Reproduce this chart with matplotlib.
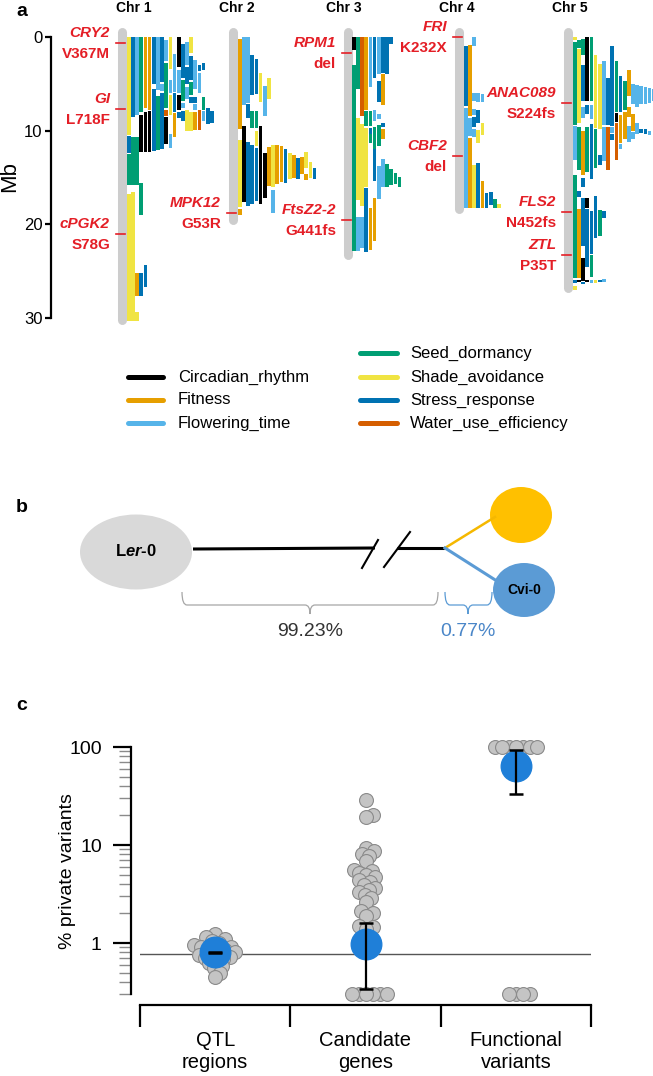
import numpy as np
import matplotlib
matplotlib.use('Agg')
import matplotlib.pyplot as plt
from matplotlib.patches import Ellipse, PathPatch
from matplotlib.path import Path

plt.rcParams['font.family'] = ['Liberation Sans', 'DejaVu Sans']
plt.rcParams['mathtext.fontset'] = 'custom'
plt.rcParams['mathtext.it'] = 'Liberation Sans:italic:bold'

# ---- panel a: QTL segments (Mb), one string per stacked column
trait_names = ['Circadian_rhythm', 'Fitness', 'Flowering_time', 'Seed_dormancy',
               'Shade_avoidance', 'Stress_response', 'Water_use_efficiency']
trait_codes = ['K', 'F', 'L', 'S', 'Y', 'B', 'W']
trait_colors = ['#000000', '#E69F00', '#56B4E9', '#009E73', '#F0E442', '#0072B2', '#D55E00']

chrom_names = ['Chr 1', 'Chr 2', 'Chr 3', 'Chr 4', 'Chr 5']
chrom_len = [30.4, 19.7, 23.5, 18.6, 27.0]

chr1_cols = [
    "Y 0 10.5; B 10.6 12.4; S 12.5 15.8; Y 16.8 30.3",
    "B 0 8.5; S 10.7 15.8; Y 16.5 30.3",
    "L 0 8.3; S 10.7 15.8; F 25.2 27.6; Y 29.3 30.3",
    "S 0 8.0; K 8.3 12.3; S 15.6 19.0; B 25.2 27.6",
    "F 0 7.6; K 8.0 12.3; B 24.3 26.7",
    "F 0 7.8; K 7.9 12.3",
    "B 0 5.0; B 5.6 12.2",
    "L 0 5.7; S 6.3 12.1",
    "B 0 4.8; L 5.0 5.8; B 6.0 12.0",
    "L 0.3 2.6; S 2.8 7.6; W 7.8 8.4; K 8.5 11.4",
    "Y 0 3.4; L 4.6 6.0; Y 6.2 8.3; L 10.3 11.8",
    "L 1.8 5.9; B 6.0 8.0; F 8.1 10.7",
    "K 0 3.2; L 3.5 6.0; K 6.2 7.8; B 8.0 8.6",
    "B 0.7 4.4; S 4.6 6.8; L 7.0 7.6; B 7.9 9.0",
    "L 0.5 3.0; B 3.2 5.0; L 5.3 6.6; Y 7.8 10.0",
    "Y 0 1.7; B 2.0 4.6; S 4.8 6.2; B 6.4 7.0; Y 8.0 10.0",
    "L 2.5 5.5; B 6.4 7.0; L 7.2 7.8; F 8.0 9.9",
    "B 3.0 3.6; L 3.8 6.0; W 7.8 9.9",
    "B 2.8 3.5; S 6.4 7.8; L 7.9 9.0",
    "B 7.6 9.3",
    "B 7.9 9.2",
]
chr2_cols = [
    "F 0.2 9.8; Y 11.0 18.1; F 18.4 19.0",
    "L 0 7.3; K 9.5 17.6",
    "L 0 7.0; B 7.1 8.6; B 11.2 18.0",
    "B 1.9 6.2; S 7.9 9.7; B 11.5 17.8",
    "B 2.3 6.1; S 7.9 9.7; Y 10.0 11.6; B 11.8 17.5",
    "Y 3.8 6.9; K 9.5 17.8",
    "L 5.2 8.4; K 12.4 17.2",
    "Y 4.4 6.6; F 11.7 15.9",
    "Y 11.5 16.0; L 16.3 18.8",
    "F 11.5 15.7",
    "F 11.6 15.5",
    "B 11.9 15.6",
    "Y 12.4 15.2",
    "F 12.6 15.0",
    "B 12.9 15.2",
    "F 12.8 14.6",
    "Y 12.3 14.0; F 14.6 15.3",
    "Y 13.3 15.0",
    "B 14.0 15.2",
]
chr3_cols = [
    "K 0 1.4; S 3.0 22.8",
    "S 0 5.5; Y 8.6 17.4; L 19.2 22.8",
    "W 0 8.4; Y 9.3 18.0; L 19.2 22.5",
    "F 0 7.8; S 7.9 9.5; Y 9.7 16.0; B 16.1 22.9",
    "L 0 5.3; S 7.9 9.5; B 9.7 10.3; S 10.4 11.3; F 18.3 22.7",
    "B 0 4.4; L 7.8 9.0; S 9.6 11.9; B 11.9 15.4; F 17.2 21.8",
    "L 0 3.9; B 4.7 6.9; L 8.2 8.7; S 9.4 11.6; L 13.8 17.3",
    "B 0 3.8; F 3.9 7.3; B 9.2 9.6; F 9.8 10.9; L 13.0 16.0",
    "B 0 4.0; S 13.6 16.0",
    "B 0 0.8; S 14.1 15.8",
    "S 14.5 15.7",
    "S 14.9 16.0",
]
chr4_cols = [
    "B 1.0 7.4; L 7.6 18.3",
    "F 0.9 8.4; L 8.6 10.6; F 10.8 18.3",
    "L 0 1.0; L 6.0 6.8; L 7.7 8.3; B 8.5 9.6; L 9.8 10.7; Y 13.7 18.3",
    "L 6.0 6.9; B 7.8 9.2; Y 9.9 11.3; B 13.5 18.3",
    "L 6.1 6.9; Y 9.2 10.5; F 15.4 18.3",
    "B 16.7 18.3",
    "B 16.5 17.9",
    "S 17.3 18.3",
    "Y 17.8 18.3",
]
chr5_cols = [
    "Y 0 0.3; S 0.5 9.4; L 9.5 13.1; S 14.7 25.7; B 25.9 26.3; Y 26.6 27.0",
    "S 0.3 1.2; Y 1.3 9.2; S 9.6 14.2; B 16.4 17.1; F 18.4 25.7; K 25.9 26.2",
    "S 0.2 1.9; B 3.0 6.8; L 7.5 8.6; F 10.0 14.7; B 15.0 16.0; B 17.2 22.3; K 23.6 26.0; B 26.1 26.4",
    "K 0 6.8; B 7.3 8.2; S 9.6 14.4; K 17.2 18.3; B 18.4 24.5; K 25.9 26.2",
    "S 0 6.8; L 7.3 8.8; B 9.3 15.2; B 18.6 23.2; S 23.3 25.6; L 25.9 26.3",
    "Y 1.9 9.7; S 9.8 14.0; B 17.0 21.5; Y 25.9 26.3",
    "Y 2.9 9.8; B 12.6 13.7; S 18.5 21.2; B 25.9 26.2",
    "L 2.6 9.4; L 9.6 13.2; B 18.6 19.3; L 25.8 26.1",
    "B 4.4 9.4; W 9.6 14.2",
    "B 1.0 9.5; L 9.6 10.2; B 10.3 11.0",
    "S 2.6 8.0; K 8.1 9.1; W 9.2 13.1",
    "B 4.2 8.0; F 8.3 11.3; L 11.4 12.0",
    "S 4.7 7.8; F 8.0 10.9",
    "F 3.5 6.3; F 7.5 8.5; L 9.5 11.2",
    "L 5.0 7.2; F 8.2 10.0; L 10.1 10.9",
    "L 5.1 7.5; L 9.2 10.4",
    "L 5.2 7.2; B 9.8 10.2",
    "L 5.3 7.1; B 9.8 10.3",
    "L 5.4 7.0; L 10.0 10.5",
    "L 5.5 6.8",
]
chrom_cols = [chr1_cols, chr2_cols, chr3_cols, chr4_cols, chr5_cols]

gene_names = ['CRY2', 'GI', 'cPGK2', 'MPK12', 'RPM1', 'FtsZ2-2', 'FRI', 'CBF2',
              'ANAC089', 'FLS2', 'ZTL']
gene_chrom = [1, 1, 1, 2, 3, 3, 4, 4, 5, 5, 5]
gene_mb = [0.65, 7.7, 21.0, 18.8, 1.7, 19.5, 0.0, 12.7, 7.0, 18.7, 23.3]
gene_variant = ['V367M', 'L718F', 'S78G', 'G53R', 'del', 'G441fs', 'K232X', 'del',
                'S224fs', 'N452fs', 'P35T']

# ---- panel b
ler_share = 99.23
cvi_share = 0.77

# ---- panel c: % private variants
categories = ['QTL\nregions', 'Candidate\ngenes', 'Functional\nvariants']
qtl_pct = [1.25, 1.15, 1.1, 1.05, 1.0, 0.95, 0.92, 0.9, 0.88, 0.85, 0.83, 0.8,
           0.78, 0.76, 0.74, 0.72, 0.7, 0.68, 0.65, 0.62, 0.58, 0.55, 0.5, 0.45]
cand_pct = [29, 20, 19.5, 9.3, 8.7, 8.1, 7.8, 6.8, 5.6, 5.4, 5.2, 4.9, 4.7, 4.4,
            4.2, 3.9, 3.6, 3.5, 3.3, 3.1, 2.9, 2.6, 2.1, 2.0, 1.9, 1.5, 1.45, 1.4,
            0, 0, 0, 0, 0, 0]
func_pct = [100, 100, 100, 100, 100, 100, 100, 0, 0, 0, 0]
group_mean = [0.8, 0.98, 64]
group_lo = [0.79, 0.34, 33]
group_hi = [0.815, 1.6, 93]
floor_pct = 0.3

# ---- layout (pixels)
W, H = 653, 1076
MB0_PX, PX_PER_MB = 37, 9.37
gray_left = [117, 228, 343, 454, 563]
col_start = [127, 238, 352, 464, 573]
title_x = [134, 237, 344, 457, 570]
pitch, col_w = 4.15, 3.7
RED = '#E41E26'

fig = plt.figure(figsize=(W / 100, H / 100), dpi=100)

ax_o = fig.add_axes([0, 0, 1, 1])
ax_o.set_xlim(0, W)
ax_o.set_ylim(H, 0)
ax_o.axis('off')

# panel a
a_bot = 345
ax_a = fig.add_axes([0, 1 - a_bot / H, 1, a_bot / H])
ax_a.set_xlim(0, W)
ax_a.set_ylim((a_bot - MB0_PX) / PX_PER_MB, -MB0_PX / PX_PER_MB)
ax_a.patch.set_visible(False)

code_color = dict(zip(trait_codes, trait_colors))
for c in range(5):
    gx = gray_left[c] + 4.5
    ax_a.plot([gx, gx], [-0.5, chrom_len[c] - 0.2], color='#CDCDCD', lw=6.5,
              solid_capstyle='round', zorder=1)
    xs, bots, hts, cols = [], [], [], []
    for i, col in enumerate(chrom_cols[c]):
        for seg in col.split(';'):
            code, s, e = seg.split()
            xs.append(col_start[c] + i * pitch)
            bots.append(float(s))
            hts.append(float(e) - float(s))
            cols.append(code_color[code])
    ax_a.bar(xs, hts, bottom=bots, width=col_w, align='edge', color=cols,
             linewidth=0, zorder=2)
    ax_o.text(title_x[c], 8, chrom_names[c], ha='center', va='center',
              fontweight='bold', fontsize=10)

for name, ch, mb, var in zip(gene_names, gene_chrom, gene_mb, gene_variant):
    gl = gray_left[ch - 1]
    ax_a.plot([gl - 1, gl + 8], [mb, mb], color=RED, lw=1.2, zorder=3)
    ax_a.annotate(name, xy=(gl, mb), xytext=(-7, 10), textcoords='offset pixels',
                  ha='right', va='center', color=RED, fontweight='bold',
                  fontstyle='italic', fontsize=11)
    ax_a.annotate(var, xy=(gl, mb), xytext=(-7, -11), textcoords='offset pixels',
                  ha='right', va='center', color=RED, fontweight='bold', fontsize=11)

for sp in ['top', 'right', 'bottom']:
    ax_a.spines[sp].set_visible(False)
ax_a.spines['left'].set_position(('data', 51))
ax_a.spines['left'].set_bounds(0, 30)
ax_a.spines['left'].set_linewidth(1.6)
ax_a.set_yticks([0, 10, 20, 30])
ax_a.set_xticks([])
ax_a.tick_params(axis='y', length=4, width=1.6, labelsize=12, pad=2)
ax_o.text(10, 177, 'Mb', rotation=90, ha='center', va='center', fontsize=16)

# legend
leg_x = [(128, 163, 178), (360, 397, 410)]
leg_rows = [[377, 400, 423], [353, 377, 400, 423]]
k = 0
for (x0, x1, tx), rows in zip(leg_x, leg_rows):
    for y in rows:
        ax_o.plot([x0, x1], [y, y], color=trait_colors[k], lw=3.6, solid_capstyle='round')
        ax_o.text(tx, y, trait_names[k], va='center', fontsize=12)
        k += 1

# panel b
ax_o.add_patch(Ellipse((136, 552), 112, 75, color='#D9D9D9', lw=0))
ax_o.text(136, 551, r'L$\it{er}$-0', ha='center', va='center', fontweight='bold', fontsize=12)
ax_o.plot([193, 375], [549, 548], color='k', lw=2.2, solid_capstyle='butt')
ax_o.plot([397, 445], [548, 548], color='k', lw=2.2, solid_capstyle='butt')
ax_o.plot([362, 378], [568, 540], color='k', lw=1.5)
ax_o.plot([384, 410], [567, 532], color='k', lw=1.5)
ax_o.plot([445, 495], [548, 517], color='#F5B800', lw=1.8)
ax_o.plot([445, 500], [548, 583], color='#5B9BD5', lw=2.2)
ax_o.add_patch(Ellipse((521, 515), 62, 56, color='#FFC000', lw=0))
ax_o.add_patch(Ellipse((524, 590), 62, 54, color='#5B9BD5', lw=0))
ax_o.text(524, 590, 'Cvi-0', ha='center', va='center', fontweight='bold', fontsize=10)


def brace(x0, x1, xm, y0, y1, y2, color):
    r = 5
    verts = [(x0, y0), (x0, y1), (x0 + r, y1), (xm - r, y1), (xm, y1), (xm, y2),
             (xm, y1), (xm + r, y1), (x1 - r, y1), (x1, y1), (x1, y0)]
    codes = [Path.MOVETO, Path.CURVE3, Path.CURVE3, Path.LINETO, Path.CURVE3, Path.CURVE3,
             Path.CURVE3, Path.CURVE3, Path.LINETO, Path.CURVE3, Path.CURVE3]
    ax_o.add_patch(PathPatch(Path(verts, codes), fill=False, edgecolor=color, lw=0.9))


brace(182, 438, 310, 592, 605, 614, '#A6A6A6')
brace(445, 492, 468, 592, 605, 614, '#5B9BD5')
ax_o.text(310, 632, f'{ler_share:.2f}%', ha='center', va='center', fontsize=14, color='#333333')
ax_o.text(468, 632, f'{cvi_share:.2f}%', ha='center', va='center', fontsize=14, color='#4A86C8')

# panel letters
for lab, y in zip(['a', 'b', 'c'], [11, 507, 706]):
    ax_o.text(22, y, lab, ha='center', va='center', fontweight='bold', fontsize=14)

# panel c
cx0, cx1, cy0, cy1 = 140, 591, 735, 1030
dec_px, one_px = 98.0, 943
ax_c = fig.add_axes([cx0 / W, 1 - cy1 / H, (cx1 - cx0) / W, (cy1 - cy0) / H])
ax_c.patch.set_visible(False)
ax_c.set_xlim(-0.5, 2.5)
ax_c.set_yscale('log')
ax_c.set_ylim(10 ** (-(cy1 - one_px) / dec_px), 10 ** ((one_px - cy0) / dec_px))

for sp in ['top', 'right', 'bottom']:
    ax_c.spines[sp].set_visible(False)
ax_c.spines['left'].set_position(('outward', 6.5))
ax_c.spines['left'].set_bounds(floor_pct, 100)
ax_c.spines['left'].set_linewidth(1.6)
ax_c.set_yticks([1, 10, 100], labels=['1', '10', '100'])
minor = [m * 10.0 ** e for e in (-1, 0, 1) for m in range(2, 10) if m * 10.0 ** e >= floor_pct]
ax_c.set_yticks(minor, minor=True)
ax_c.yaxis.set_minor_formatter(plt.NullFormatter())
ax_c.tick_params(axis='y', which='major', length=13, width=1.6, labelsize=14, pad=8)
ax_c.tick_params(axis='y', which='minor', length=9, width=1.0, color='#8A8A8A')
ax_c.set_xticks([0, 1, 2], labels=categories)
ax_c.tick_params(axis='x', length=0, pad=1, labelsize=14.5)
ax_c.text((67 - cx0) / (cx1 - cx0), (cy1 - 871) / (cy1 - cy0), '% private variants',
          transform=ax_c.transAxes, rotation=90, ha='center', va='center', fontsize=14)

ax_c.plot([-0.5, 2.5], [cvi_share, cvi_share], color='#555555', lw=1, zorder=1)

tr = ax_c.get_xaxis_transform()
yb = (cy1 - 1005) / (cy1 - cy0)
yt = (cy1 - 1027) / (cy1 - cy0)
ax_c.plot([-0.5, 2.5], [yb, yb], transform=tr, color='k', lw=1.6, clip_on=False)
for b in [-0.5, 0.5, 1.5, 2.5]:
    ax_c.plot([b, b], [yb, yt], transform=tr, color='k', lw=1.6, clip_on=False,
              solid_capstyle='butt')


def swarm_x(ax, xc, vals, min_dist=6.5):
    disp = ax.transData.transform(np.column_stack([np.full(len(vals), xc), vals]))
    inv = ax.transData.inverted()
    placed = []
    out = np.zeros(len(vals))
    for i in np.argsort(disp[:, 1]):
        px, py = disp[i]
        for k in range(400):
            step = (k + 1) // 2
            dx = step if k % 2 else -step
            if all((px + dx - qx) ** 2 + (py - qy) ** 2 >= min_dist ** 2 for qx, qy in placed):
                break
        placed.append((px + dx, py))
        out[i] = inv.transform((px + dx, py))[0]
    return out


for i, vals in enumerate([qtl_pct, cand_pct, func_pct]):
    v = np.maximum(np.array(vals, dtype=float), floor_pct)
    xs = swarm_x(ax_c, i, v)
    ax_c.scatter(xs, v, s=100, facecolor='#C4C4C4', edgecolor='#8A8A8A', lw=0.8,
                 zorder=3, clip_on=False)
    ax_c.scatter([i], [group_mean[i]], s=22 ** 2, color='#1F7FD8', zorder=4)
    ax_c.errorbar([i], [group_mean[i]],
                  yerr=[[group_mean[i] - group_lo[i]], [group_hi[i] - group_mean[i]]],
                  fmt='none', ecolor='k', elinewidth=1.6, capsize=5, capthick=1.8, zorder=5)

plt.savefig('out.png', dpi=100)
